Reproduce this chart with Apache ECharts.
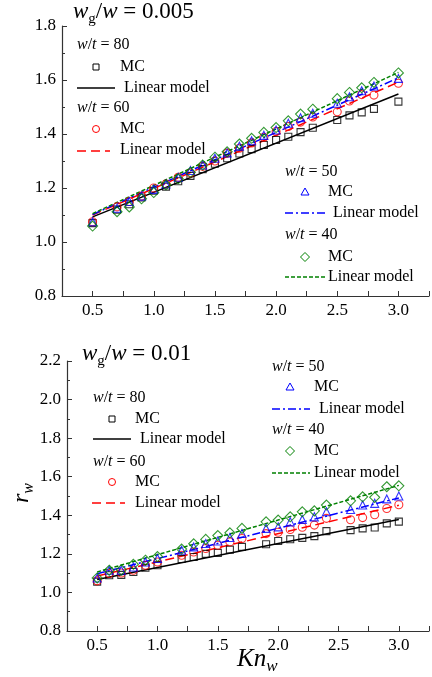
<!DOCTYPE html>
<html>
<head>
<meta charset="utf-8">
<script src="https://cdn.jsdelivr.net/npm/echarts@6/dist/echarts.min.js"></script>
<style>
html, body { margin: 0; padding: 0; background: #fff; }
#main { width: 432px; height: 677px; }
</style>
</head>
<body>
<div id="main"></div>
<script>
// Kn_w values of the MC runs
var knTop = [0.5, 0.7, 0.8, 0.9, 1.0, 1.1, 1.2, 1.3, 1.4, 1.5, 1.6, 1.7, 1.8, 1.9, 2.0, 2.1, 2.2, 2.3, 2.5, 2.6, 2.7, 2.8, 3.0];
var knBot = [0.5, 0.6, 0.7, 0.8, 0.9, 1.0, 1.2, 1.3, 1.4, 1.5, 1.6, 1.7, 1.9, 2.0, 2.1, 2.2, 2.3, 2.4, 2.6, 2.7, 2.8, 2.9, 3.0];
var knLin = [0.5, 3.0];

// wg/w = 0.005
var mc80Top = [1.07, 1.12, 1.14, 1.165, 1.19, 1.205, 1.225, 1.245, 1.27, 1.29, 1.31, 1.328, 1.344, 1.359, 1.378, 1.39, 1.407, 1.423, 1.452, 1.469, 1.48, 1.493, 1.52];
var mc60Top = [1.075, 1.13, 1.15, 1.17, 1.2, 1.215, 1.24, 1.255, 1.28, 1.3, 1.329, 1.347, 1.367, 1.388, 1.409, 1.428, 1.444, 1.463, 1.482, 1.522, 1.546, 1.544, 1.588];
var mc50Top = [1.075, 1.125, 1.15, 1.17, 1.195, 1.215, 1.24, 1.265, 1.285, 1.31, 1.33, 1.355, 1.375, 1.395, 1.415, 1.44, 1.46, 1.477, 1.514, 1.538, 1.56, 1.578, 1.606];
var mc40Top = [1.059, 1.112, 1.13, 1.16, 1.183, 1.212, 1.234, 1.258, 1.285, 1.314, 1.334, 1.363, 1.384, 1.406, 1.424, 1.449, 1.474, 1.492, 1.531, 1.554, 1.571, 1.591, 1.626];
var lin80Top = [1.093, 1.548];
var lin60Top = [1.10, 1.592];
var lin50Top = [1.102, 1.608];
var lin40Top = [1.105, 1.628];

// wg/w = 0.01
var mc80Bot = [1.056, 1.089, 1.091, 1.106, 1.128, 1.141, 1.173, 1.184, 1.2, 1.205, 1.222, 1.236, 1.25, 1.267, 1.276, 1.283, 1.292, 1.318, 1.323, 1.332, 1.337, 1.358, 1.367];
var mc60Bot = [1.06, 1.098, 1.101, 1.115, 1.141, 1.158, 1.193, 1.21, 1.228, 1.245, 1.262, 1.28, 1.305, 1.312, 1.326, 1.338, 1.349, 1.384, 1.377, 1.388, 1.403, 1.435, 1.455];
var mc50Bot = [1.075, 1.115, 1.115, 1.132, 1.158, 1.176, 1.219, 1.236, 1.254, 1.267, 1.285, 1.306, 1.332, 1.34, 1.366, 1.378, 1.392, 1.418, 1.43, 1.453, 1.462, 1.485, 1.5];
var mc40Bot = [1.075, 1.115, 1.117, 1.146, 1.167, 1.186, 1.225, 1.252, 1.275, 1.295, 1.309, 1.332, 1.366, 1.375, 1.392, 1.418, 1.423, 1.453, 1.475, 1.496, 1.493, 1.548, 1.553];
var lin80Bot = [1.067, 1.378];
var lin60Bot = [1.085, 1.452];
var lin50Bot = [1.097, 1.49];
var lin40Bot = [1.106, 1.555];

var FONT = '"Liberation Serif", "DejaVu Serif", serif';
var C80 = '#000000', C60 = '#ff0000', C50 = '#0000ff', C40 = '#008000';
var DASH60 = [9, 5], DASH50 = [8, 3, 2, 3], DASH40 = [4, 2];

function mcSeries(xs, ys, idx, symbol, size, color) {
    return {
        type: 'scatter', xAxisIndex: idx, yAxisIndex: idx, silent: true,
        symbol: symbol, symbolSize: size, z: 3,
        data: xs.map(function (x, i) { return [x, ys[i]]; }),
        itemStyle: { color: 'rgba(0,0,0,0)', borderColor: color, borderWidth: 1.1 }
    };
}
function linSeries(ys, idx, color, dash) {
    return {
        type: 'line', xAxisIndex: idx, yAxisIndex: idx, silent: true,
        symbol: 'none', z: 2,
        data: knLin.map(function (x, i) { return [x, ys[i]]; }),
        lineStyle: { color: color, width: 1.5, type: dash }
    };
}

var axisCommon = {
    axisLine: { lineStyle: { color: '#333', width: 1.2 } },
    axisTick: { inside: true, length: 5, lineStyle: { color: '#333' } },
    splitLine: { show: false }
};
function xAx(idx) {
    return Object.assign({
        type: 'value', gridIndex: idx, min: 0.25, max: 3.25, interval: 0.25,
        axisLabel: {
            color: '#000', fontFamily: FONT, fontSize: 17, margin: 6,
            formatter: function (v) {
                return (Math.abs(v * 2 - Math.round(v * 2)) < 1e-6) ? v.toFixed(1) : '';
            }
        }
    }, axisCommon);
}
function yAx(idx, max) {
    return Object.assign({
        type: 'value', gridIndex: idx, min: 0.8, max: max, interval: 0.2,
        minorTick: { show: true, splitNumber: 2, length: 3, lineStyle: { color: '#333' } },
        axisLabel: {
            color: '#000', fontFamily: FONT, fontSize: 17, margin: 6,
            formatter: function (v) { return v.toFixed(1); }
        }
    }, axisCommon);
}

// ---- graphic helpers (titles, legend) ----
var richSmall = {
    i: { fontStyle: 'italic', fontFamily: FONT, fontSize: 16 },
    n: { fontFamily: FONT, fontSize: 16 }
};
function txt(x, y, text, size, rich) {
    return {
        type: 'text', x: x, y: y, silent: true,
        style: { text: text, fontFamily: FONT, fontSize: size, fill: '#000', align: 'left', verticalAlign: 'middle', rich: rich }
    };
}
function label(x, y, s) { return txt(x, y, '{n|' + s + '}', 16, richSmall); }
function header(x, y, n) { return txt(x, y, '{i|w}{n|/}{i|t}{n| = ' + n + '}', 16, richSmall); }
function marker(kind, cx, cy, color) {
    var st = { fill: 'none', stroke: color, lineWidth: 1 };
    if (kind === 'rect') return { type: 'rect', silent: true, shape: { x: cx - 3, y: cy - 3, width: 6, height: 6 }, style: st };
    if (kind === 'circle') return { type: 'circle', silent: true, shape: { cx: cx, cy: cy, r: 3.5 }, style: st };
    if (kind === 'triangle') return { type: 'polygon', silent: true, shape: { points: [[cx, cy - 4], [cx + 4, cy + 3], [cx - 4, cy + 3]] }, style: st };
    return { type: 'polygon', silent: true, shape: { points: [[cx, cy - 4.5], [cx + 4.5, cy], [cx, cy + 4.5], [cx - 4.5, cy]] }, style: st };
}
function sample(x1, x2, y, color, dash) {
    return { type: 'line', silent: true, shape: { x1: x1, y1: y, x2: x2, y2: y }, style: { stroke: color, lineWidth: 1.5, lineDash: dash } };
}
function bigRich(size, sub, lh, slh) {
    return {
        i: { fontStyle: 'italic', fontFamily: FONT, fontSize: size, lineHeight: lh },
        n: { fontFamily: FONT, fontSize: size, lineHeight: lh },
        s: { fontStyle: 'italic', fontFamily: FONT, fontSize: sub, lineHeight: slh, verticalAlign: 'bottom' },
        sn: { fontFamily: FONT, fontSize: sub, lineHeight: slh, verticalAlign: 'bottom' }
    };
}

var graphics = [
    // panel titles
    txt(73, 12, '{i|w}{sn|g}{n|/}{i|w}{n| = 0.005}', 23, bigRich(23, 15, 30, 12)),
    txt(82, 354, '{i|w}{sn|g}{n|/}{i|w}{n| = 0.01}', 23, bigRich(23, 15, 30, 12)),
    // axis names
    txt(237, 659, '{i|Kn}{s|w}', 25, bigRich(25, 17, 32, 14)),
    Object.assign(txt(22, 503, '{i|r}{s|w}', 24, bigRich(24, 16, 30, 12)), { rotation: Math.PI / 2 }),

    // top panel legend, left block
    header(77, 45, 80),
    marker('rect', 96, 67, C80), label(120, 67, 'MC'),
    sample(77, 115, 88, C80, null), label(124, 88, 'Linear model'),
    header(77, 108, 60),
    marker('circle', 96, 129, C60), label(120, 129, 'MC'),
    sample(77, 110, 151, C60, DASH60), label(120, 150, 'Linear model'),
    // top panel legend, right block
    header(285, 172, 50),
    marker('triangle', 305, 192, C50), label(328, 192, 'MC'),
    sample(285, 325, 213, C50, DASH50), label(333, 213, 'Linear model'),
    header(285, 235, 40),
    marker('diamond', 305, 257, C40), label(328, 257, 'MC'),
    sample(285, 325, 277, C40, DASH40), label(328, 277, 'Linear model'),

    // bottom panel legend, left block
    header(93, 398, 80),
    marker('rect', 112, 419, C80), label(135, 419, 'MC'),
    sample(93, 131, 439, C80, null), label(140, 439, 'Linear model'),
    header(93, 462, 60),
    marker('circle', 112, 482, C60), label(135, 482, 'MC'),
    sample(92, 125, 503, C60, DASH60), label(135, 503, 'Linear model'),
    // bottom panel legend, right block
    header(272, 367, 50),
    marker('triangle', 290, 387, C50), label(314, 387, 'MC'),
    sample(272, 310, 409, C50, DASH50), label(319, 409, 'Linear model'),
    header(272, 430, 40),
    marker('diamond', 290, 451, C40), label(314, 451, 'MC'),
    sample(272, 310, 473, C40, DASH40), label(314, 473, 'Linear model')
];

var chart = echarts.init(document.getElementById('main'));
chart.setOption({
    animation: false,
    backgroundColor: '#fff',
    textStyle: { fontFamily: FONT },
    grid: [
        { left: 62, top: 26, width: 368, height: 270 },
        { left: 67, top: 361, width: 368, height: 270 }
    ],
    xAxis: [xAx(0), xAx(1)],
    yAxis: [yAx(0, 1.8), yAx(1, 2.2)],
    graphic: graphics,
    series: [
        linSeries(lin80Top, 0, C80, 'solid'),
        linSeries(lin60Top, 0, C60, DASH60),
        linSeries(lin50Top, 0, C50, DASH50),
        linSeries(lin40Top, 0, C40, DASH40),
        mcSeries(knTop, mc80Top, 0, 'rect', 7, C80),
        mcSeries(knTop, mc60Top, 0, 'circle', 8, C60),
        mcSeries(knTop, mc50Top, 0, 'triangle', 8, C50),
        mcSeries(knTop, mc40Top, 0, 'diamond', 10, C40),

        linSeries(lin80Bot, 1, C80, 'solid'),
        linSeries(lin60Bot, 1, C60, DASH60),
        linSeries(lin50Bot, 1, C50, DASH50),
        linSeries(lin40Bot, 1, C40, DASH40),
        mcSeries(knBot, mc80Bot, 1, 'rect', 7, C80),
        mcSeries(knBot, mc60Bot, 1, 'circle', 8, C60),
        mcSeries(knBot, mc50Bot, 1, 'triangle', 8, C50),
        mcSeries(knBot, mc40Bot, 1, 'diamond', 10, C40)
    ]
});
</script>
</body>
</html>
